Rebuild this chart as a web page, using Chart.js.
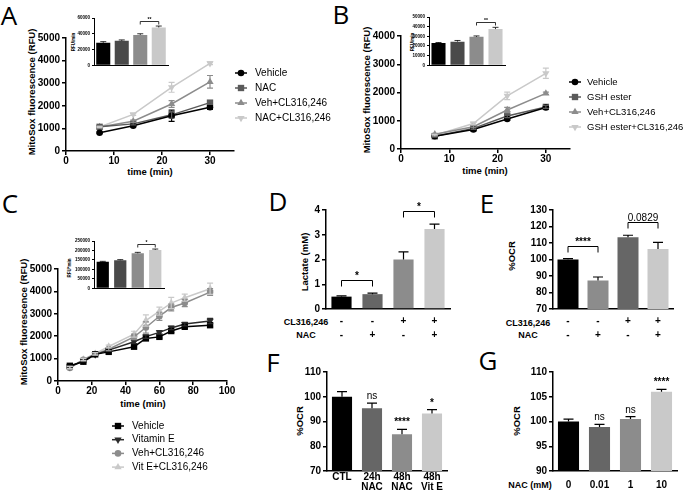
<!DOCTYPE html>
<html>
<head>
<meta charset="utf-8">
<script src="https://cdn.jsdelivr.net/npm/chart.js@4.4.1/dist/chart.umd.min.js"></script>
<style>
  body { margin: 0; background: #fff; }
  #fig { position: relative; width: 683px; height: 492px; overflow: hidden; background: #fff;
         font-family: "Liberation Sans", Arial, sans-serif; color: #000; }
  #fig canvas { position: absolute; }
  .t { position: absolute; white-space: nowrap; transform: translate(-50%, -50%); line-height: 1; }
  .v { transform: translate(-50%, -50%) rotate(-90deg); }
  .panel { font-family: "Open Sans", sans-serif; font-size: 26px; }
  .ax { font-weight: bold; font-size: 9.5px; }
  .tiny { font-weight: bold; font-size: 4.5px; }
  .row { font-weight: bold; font-size: 9px; }
</style>
</head>
<body>
<div id="fig">
  <div class="t panel" style="left:9px;top:15px">A</div>
  <div class="t panel" style="left:341px;top:14px">B</div>
  <div class="t panel" style="left:10px;top:203px">C</div>
  <div class="t panel" style="left:278px;top:201px">D</div>
  <div class="t panel" style="left:487px;top:203px">E</div>
  <div class="t panel" style="left:273px;top:362px">F</div>
  <div class="t panel" style="left:488px;top:360px">G</div>

  <div class="t v ax" style="left:32px;top:92px">MitoSox fluorescence (RFU)</div>
  <div class="t ax" style="left:150px;top:172px">time (min)</div>
  <div class="t v tiny" style="left:74px;top:42px">RFU/min</div>

  <div class="t v ax" style="left:367px;top:90px">MitoSox fluorescence (RFU)</div>
  <div class="t ax" style="left:485px;top:171px">time (min)</div>
  <div class="t v tiny" style="left:413px;top:42px">RFU/min</div>

  <div class="t v ax" style="left:24px;top:322px">MitoSox fluorescence (RFU)</div>
  <div class="t ax" style="left:143px;top:404px">time (min)</div>
  <div class="t v tiny" style="left:70px;top:268px">RFU*min</div>

  <div class="t v ax" style="left:305px;top:262px">Lactate (mM)</div>
  <div class="t row" style="left:306px;top:322px">CL316,246</div>
  <div class="t row" style="left:306px;top:335px">NAC</div>

  <div class="t v ax" style="left:512px;top:256px">%OCR</div>
  <div class="t row" style="left:528px;top:323px">CL316,246</div>
  <div class="t row" style="left:528px;top:335px">NAC</div>

  <div class="t v ax" style="left:300px;top:421px">%OCR</div>

  <div class="t v ax" style="left:517px;top:421px">%OCR</div>
  <div class="t row" style="left:530px;top:485px">NAC (mM)</div>
</div>
<script>
// ---------- data ----------
// A: MitoSox, NAC
const aTime = [7, 14, 22, 30];
const aLabels = ['Vehicle', 'NAC', 'Veh+CL316,246', 'NAC+CL316,246'];
const aVehicle = [810, 1120, 1560, 1940];
const aVehicleErr = [30, 50, 250, 100];
const aNac = [1070, 1200, 1600, 2140];
const aNacErr = [40, 40, 150, 80];
const aVehCl = [1060, 1320, 2080, 3060];
const aVehClErr = [40, 50, 150, 280];
const aNacCl = [1060, 1620, 2820, 3880];
const aNacClErr = [30, 40, 220, 60];
const aInset = [28500, 31000, 38500, 48000];
const aInsetErr = [1500, 1200, 1500, 1800];

// B: MitoSox, GSH ester
const bTime = [7, 15, 22, 30];
const bLabels = ['Vehicle', 'GSH ester', 'Veh+CL316,246', 'GSH ester+CL316,246'];
const bVehicle = [450, 690, 1060, 1470];
const bVehicleErr = [30, 40, 50, 40];
const bGsh = [450, 730, 1170, 1490];
const bGshErr = [30, 40, 60, 50];
const bVehCl = [520, 790, 1380, 1970];
const bVehClErr = [30, 40, 90, 40];
const bGshCl = [490, 900, 1880, 2680];
const bGshClErr = [30, 40, 130, 180];
const bInset = [23000, 24500, 29500, 37500];
const bInsetErr = [600, 1200, 900, 1800];

// C: MitoSox, vitamin E
const cTime = [7, 15, 22, 30, 45, 52, 60, 67, 75, 90];
const cLabels = ['Vehicle', 'Vitamin E', 'Veh+CL316,246', 'Vit E+CL316,246'];
const cVehicle = [680, 860, 1190, 1300, 1530, 1900, 1970, 2230, 2420, 2490];
const cVehicleErr = [50, 40, 40, 40, 50, 50, 50, 60, 60, 80];
const cVitE = [640, 900, 1180, 1380, 1750, 1980, 2170, 2370, 2540, 2680];
const cVitEErr = [50, 40, 40, 60, 80, 80, 80, 80, 80, 120];
const cVehCl = [580, 950, 1200, 1420, 1970, 2390, 2890, 3280, 3480, 3970];
const cVehClErr = [60, 50, 50, 60, 120, 250, 180, 150, 160, 150];
const cVitECl = [600, 960, 1220, 1540, 2090, 2700, 3120, 3480, 3720, 4120];
const cVitEClErr = [50, 50, 50, 60, 130, 250, 180, 250, 160, 250];
const cInset = [140000, 148000, 185000, 203000];
const cInsetErr = [2500, 3500, 5000, 4500];

// D: lactate
const dCL = ['-', '-', '+', '+'];
const dNAC = ['-', '+', '-', '+'];
const dLactate = [0.5, 0.6, 2.0, 3.23];
const dLactateErr = [0.03, 0.04, 0.31, 0.2];

// E: %OCR with CL316,246 / NAC
const eCL = ['-', '-', '+', '+'];
const eNAC = ['-', '+', '-', '+'];
const eOcr = [100, 87.2, 113.5, 106.4];
const eOcrErr = [0.5, 2.2, 1.2, 4.0];

// F: %OCR, treatments
const fGroups = ['CTL', ['24h', 'NAC'], ['48h', 'NAC'], ['48h', 'Vit E']];
const fOcr = [100, 95.4, 84.8, 93.2];
const fOcrErr = [2.1, 2.0, 2.0, 1.6];
const fSig = ['', 'ns', '****', '*'];

// G: %OCR, NAC dose
const gDose = ['0', '0.01', '1', '10'];
const gOcr = [100, 98.9, 100.5, 106.0];
const gOcrErr = [0.5, 0.5, 0.5, 0.5];
const gSig = ['', 'ns', 'ns', '****'];

// ---------- styling ----------
const BLACK = '#000000', DARK = '#5a5a5a', MID = '#8c8c8c', LIGHT = '#c9c9c9';
const FONT = '"Liberation Sans", Arial, sans-serif';

Chart.defaults.font.family = FONT;
Chart.defaults.font.size = 10;
Chart.defaults.font.weight = 'bold';
Chart.defaults.color = '#000';
Chart.defaults.animation = false;
Chart.defaults.events = [];
Chart.defaults.plugins.legend.display = false;
Chart.defaults.plugins.tooltip.enabled = false;

const fig = document.getElementById('fig');

// draws the error bars stored on each dataset
const errorBars = {
  id: 'errorBars',
  afterDatasetsDraw(chart) {
    const ctx = chart.ctx;
    const ys = chart.scales.y;
    chart.data.datasets.forEach((ds, i) => {
      if (!ds.errors) return;
      const meta = chart.getDatasetMeta(i);
      const cap = ds.cap || 3;
      ctx.save();
      ctx.strokeStyle = ds.errorColor || ds.borderColor;
      ctx.lineWidth = ds.errorWidth || 1.2;
      meta.data.forEach((el, j) => {
        const raw = ds.data[j];
        const v = typeof raw === 'object' ? raw.y : raw;
        const e = ds.errors[j];
        const top = ys.getPixelForValue(v + e);
        const bot = ys.getPixelForValue(ds.upOnly ? v : v - e);
        ctx.beginPath();
        ctx.moveTo(el.x, top); ctx.lineTo(el.x, bot);
        ctx.moveTo(el.x - cap, top); ctx.lineTo(el.x + cap, top);
        if (!ds.upOnly) { ctx.moveTo(el.x - cap, bot); ctx.lineTo(el.x + cap, bot); }
        ctx.stroke();
      });
      ctx.restore();
    });
  }
};

function marker(ctx, style, rot, r, x, y) {
  ctx.beginPath();
  if (style === 'rect') {
    const s = r * Math.SQRT1_2;
    ctx.rect(x - s, y - s, 2 * s, 2 * s);
  } else if (style === 'triangle') {
    const d = rot === 180 ? -1 : 1;
    ctx.moveTo(x, y - d * r);
    ctx.lineTo(x + r * 0.866, y + d * r * 0.5);
    ctx.lineTo(x - r * 0.866, y + d * r * 0.5);
    ctx.closePath();
  } else {
    ctx.arc(x, y, r, 0, Math.PI * 2);
  }
  ctx.fill();
}

// legend with line + marker, like the GraphPad key
function keyPlugin(x, y, dy, size, gap) {
  return {
    id: 'seriesKey',
    afterDraw(chart) {
      const ctx = chart.ctx;
      chart.data.datasets.forEach((ds, i) => {
        const yy = y + i * dy;
        ctx.save();
        ctx.strokeStyle = ds.borderColor;
        ctx.fillStyle = ds.borderColor;
        ctx.lineWidth = 1.5;
        ctx.beginPath(); ctx.moveTo(x - 6, yy); ctx.lineTo(x + 6, yy); ctx.stroke();
        marker(ctx, ds.pointStyle, ds.pointRotation, ds.pointRadius, x, yy);
        ctx.fillStyle = '#000';
        ctx.font = size + 'px ' + FONT;
        ctx.textBaseline = 'middle';
        ctx.fillText(ds.label, x + gap, yy);
        ctx.restore();
      });
    }
  };
}

// brackets between bars + labels above single bars
function sigPlugin(pairs, labels, st) {
  return {
    id: 'sigMarks',
    afterDatasetsDraw(chart) {
      const ctx = chart.ctx, ys = chart.scales.y;
      const ds = chart.data.datasets[0];
      const meta = chart.getDatasetMeta(0);
      const topOf = j => ys.getPixelForValue(ds.data[j] + ds.errors[j]);
      ctx.save();
      ctx.strokeStyle = '#000'; ctx.fillStyle = '#000';
      ctx.lineWidth = st.lw;
      ctx.textAlign = 'center';
      ctx.textBaseline = 'alphabetic';
      pairs.forEach(p => {
        const a = p[0], b = p[1], text = p[2];
        const y = Math.round(Math.min(topOf(a), topOf(b)) - st.gap) + 0.5;
        const xa = meta.data[a].x, xb = meta.data[b].x;
        ctx.beginPath();
        ctx.moveTo(xa, y + st.drop); ctx.lineTo(xa, y); ctx.lineTo(xb, y); ctx.lineTo(xb, y + st.drop);
        ctx.stroke();
        ctx.font = (/\d/.test(text) ? 'normal ' : 'bold ') + st.size + 'px ' + FONT;
        ctx.fillText(text, (xa + xb) / 2, y - st.lift);
      });
      (labels || []).forEach((text, j) => {
        if (!text) return;
        ctx.font = (text === 'ns' ? 'normal ' : 'bold ') + st.size + 'px ' + FONT;
        ctx.fillText(text, meta.data[j].x, topOf(j) - 4);
      });
      ctx.restore();
    }
  };
}

// place a canvas so that its plot area lands on the given page box
function build(area, m, config, key) {
  const c = document.createElement('canvas');
  const w = area.r - area.l + m.yw + m.right;
  const h = area.b - area.t + m.top + m.xh;
  const ox = area.l - m.yw, oy = area.t - m.top;
  c.width = w; c.height = h;
  c.style.left = ox + 'px'; c.style.top = oy + 'px';
  c.style.width = w + 'px'; c.style.height = h + 'px';
  fig.appendChild(c);
  config.options.responsive = false;
  config.options.devicePixelRatio = 1;
  config.options.layout = { padding: { top: m.top, right: m.right, left: 0, bottom: 0 } };
  config.options.scales.x.afterFit = s => { s.height = m.xh; };
  config.options.scales.y.afterFit = s => { s.width = m.yw; };
  config.plugins = config.plugins || [];
  if (key) config.plugins.push(keyPlugin(key.x - ox, key.y - oy, key.dy, key.size || 10, key.gap || 14));
  return new Chart(c, config);
}

function yLin(min, max, step, size, lw, len) {
  return {
    type: 'linear', min: min, max: max,
    ticks: { stepSize: step, padding: 2, font: { size: size }, callback: v => String(v) },
    grid: { drawOnChartArea: false, color: '#000', lineWidth: lw, tickLength: len },
    border: { color: '#000', width: lw }
  };
}

function xLin(min, max, step) {
  return {
    type: 'linear', min: min, max: max,
    ticks: { stepSize: step, padding: 0, includeBounds: false, callback: v => String(v) },
    grid: { drawOnChartArea: false, color: '#000', lineWidth: 1.5, tickLength: 4 },
    border: { color: '#000', width: 1.5 }
  };
}

function series(label, times, vals, errs, color, style, rot) {
  return {
    label: label,
    data: times.map((t, i) => ({ x: t, y: vals[i] })),
    errors: errs,
    borderColor: color, backgroundColor: color,
    pointBackgroundColor: color, pointBorderColor: color,
    pointStyle: style, pointRotation: rot || 0,
    pointRadius: style === 'rect' ? 4.5 : (style === 'triangle' ? 4.2 : 3.3),
    pointBorderWidth: 0,
    borderWidth: 1.5, tension: 0
  };
}

function lineChart(area, m, xmax, ymax, sets, key) {
  return build(area, m, {
    type: 'line',
    data: { datasets: sets },
    options: { scales: { x: xLin(0, xmax, xmax > 50 ? 20 : 10), y: yLin(0, ymax, 1000, 10, 1.5, 4) } },
    plugins: [errorBars]
  }, key);
}

function barChart(area, m, o) {
  const small = !!o.small;
  return build(area, m, {
    type: 'bar',
    data: {
      labels: o.labels,
      datasets: [{
        data: o.values, errors: o.errors, upOnly: true,
        backgroundColor: o.colors, borderWidth: 0,
        errorColor: '#000', errorWidth: small ? 0.8 : 1.2, cap: small ? 3 : 5,
        categoryPercentage: 1, barPercentage: o.bar
      }]
    },
    options: {
      scales: {
        x: {
          ticks: { display: !small, padding: o.pad || 0, autoSkip: false, maxRotation: 0,
                   font: { size: 10, lineHeight: o.lh || 1.2 } },
          grid: { display: false, drawTicks: false },
          border: { color: '#000', width: small ? 1 : 1.5 }
        },
        y: yLin(o.min, o.max, o.step, small ? 4.5 : 10, small ? 1 : 1.5, small ? 2 : 4)
      }
    },
    plugins: [errorBars, sigPlugin(o.pairs || [], o.sig, small
      ? { lw: 0.8, gap: 5, drop: 3, lift: 1, size: 5 }
      : { lw: 1, gap: 13, drop: 6, lift: 2, size: 10 })]
  });
}

const insetColors = [BLACK, '#4a4a4a', MID, LIGHT];
const barColors = [BLACK, '#666666', MID, LIGHT];

// ---- A ----
lineChart({ l: 66, t: 38, r: 234, b: 151 }, { yw: 40, xh: 20, top: 10, right: 105 }, 35, 5000, [
  series(aLabels[0], aTime, aVehicle, aVehicleErr, BLACK, 'circle'),
  series(aLabels[1], aTime, aNac, aNacErr, DARK, 'rect'),
  series(aLabels[2], aTime, aVehCl, aVehClErr, MID, 'triangle'),
  series(aLabels[3], aTime, aNacCl, aNacClErr, LIGHT, 'triangle', 180)
], { x: 241, y: 73, dy: 15 });
barChart({ l: 94, t: 18, r: 168, b: 68 }, { yw: 20, xh: 2, top: 8, right: 4 }, {
  small: true, labels: ['1', '2', '3', '4'], values: aInset, errors: aInsetErr, colors: insetColors,
  bar: 0.76, min: 0, max: 60000, step: 20000, pairs: [[2, 3, '**']]
});

// ---- B ----
lineChart({ l: 401, t: 36, r: 570, b: 149 }, { yw: 40, xh: 20, top: 10, right: 113 }, 35, 4000, [
  series(bLabels[0], bTime, bVehicle, bVehicleErr, BLACK, 'circle'),
  series(bLabels[1], bTime, bGsh, bGshErr, DARK, 'rect'),
  series(bLabels[2], bTime, bVehCl, bVehClErr, MID, 'triangle'),
  series(bLabels[3], bTime, bGshCl, bGshClErr, LIGHT, 'triangle', 180)
], { x: 575, y: 82, dy: 15, size: 9.5, gap: 12 });
barChart({ l: 429, t: 17, r: 505, b: 68 }, { yw: 20, xh: 2, top: 8, right: 4 }, {
  small: true, labels: ['1', '2', '3', '4'], values: bInset, errors: bInsetErr, colors: insetColors,
  bar: 0.74, min: 0, max: 50000, step: 10000, pairs: [[2, 3, '**']]
});

// ---- C ----
lineChart({ l: 58, t: 269, r: 227, b: 381 }, { yw: 40, xh: 95, top: 10, right: 10 }, 100, 5000, [
  series(cLabels[0], cTime, cVehicle, cVehicleErr, BLACK, 'rect'),
  series(cLabels[1], cTime, cVitE, cVitEErr, '#2b2b2b', 'triangle', 180),
  series(cLabels[2], cTime, cVehCl, cVehClErr, MID, 'circle'),
  series(cLabels[3], cTime, cVitECl, cVitEClErr, LIGHT, 'triangle')
], { x: 118, y: 426, dy: 13.7 });
barChart({ l: 94, t: 241, r: 164, b: 291 }, { yw: 24, xh: 2, top: 8, right: 4 }, {
  small: true, labels: ['1', '2', '3', '4'], values: cInset, errors: cInsetErr, colors: insetColors,
  bar: 0.7, min: 0, max: 250000, step: 50000, pairs: [[2, 3, '*']]
});

// ---- D ----
barChart({ l: 326, t: 210, r: 450, b: 309 }, { yw: 24, xh: 34, top: 20, right: 5 }, {
  labels: dCL.map((c, i) => [c, dNAC[i]]), values: dLactate, errors: dLactateErr, colors: barColors,
  bar: 0.65, pad: 5, lh: 1.4, min: 0, max: 4, step: 1, pairs: [[0, 1, '*'], [2, 3, '*']]
});

// ---- E ----
barChart({ l: 553, t: 210, r: 673, b: 309 }, { yw: 26, xh: 34, top: 25, right: 8 }, {
  labels: eCL.map((c, i) => [c, eNAC[i]]), values: eOcr, errors: eOcrErr,
  colors: [BLACK, MID, '#666666', LIGHT],
  bar: 0.7, pad: 5, lh: 1.4, min: 70, max: 130, step: 10, pairs: [[0, 1, '****'], [2, 3, '0.0829']]
});

// ---- F ----
barChart({ l: 327, t: 372, r: 447, b: 471 }, { yw: 26, xh: 21, top: 10, right: 5 }, {
  labels: fGroups, values: fOcr, errors: fOcrErr, colors: barColors,
  bar: 0.67, pad: 1, lh: 1.0, min: 70, max: 110, step: 10, sig: fSig
});

// ---- G ----
barChart({ l: 553, t: 372, r: 677, b: 471 }, { yw: 26, xh: 21, top: 10, right: 5 }, {
  labels: gDose, values: gOcr, errors: gOcrErr, colors: barColors,
  bar: 0.68, pad: 8, min: 90, max: 110, step: 5, sig: gSig
});
</script>
</body>
</html>
